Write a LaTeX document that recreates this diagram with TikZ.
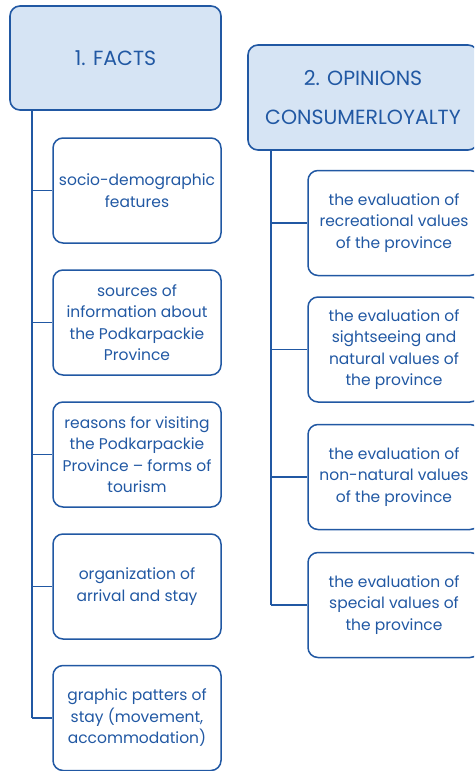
\documentclass[tikz,border=0pt]{standalone}
\usepackage{fontspec}
\setmainfont{Poppins}
\usetikzlibrary{positioning}
\definecolor{navy}{RGB}{33,88,163}
\definecolor{paleblue}{RGB}{214,228,244}

\begin{document}
\begin{tikzpicture}[x=1pt,y=-1pt,
  head/.style={draw=navy,fill=paleblue,rounded corners=10pt,line width=1.6pt,
    text=navy,font=\fontsize{20.5}{39}\selectfont,align=center,inner sep=0pt},
  item/.style={draw=navy,rounded corners=10pt,line width=1.5pt,
    text=navy,font=\fontsize{15.5}{21.5}\selectfont,align=center,inner sep=0pt},
  spine/.style={draw=navy,line width=2pt},
  twig/.style={draw=navy,line width=1.4pt}]
\clip (0,0) rectangle (474,771);
\useasboundingbox (0,0) rectangle (474,771);
% ---------- column 1 : facts ----------
\node[head,minimum width=211pt,minimum height=104pt] (facts) at (115.5,58) {1. FACTS};
\foreach \y/\nm/\txt in {190.5/f1/{socio-demographic\\features},
    322.5/f2/{sources of\\information about\\the Podkarpackie\\Province},
    454.5/f3/{reasons for visiting\\the Podkarpackie\\Province -- forms of\\tourism},
    586.5/f4/{organization of\\arrival and stay},
    718/f5/{graphic patters of\\stay (movement,\\accommodation)}}{%
  \node[item,minimum width=168pt,minimum height=105pt] (\nm) at (137,\y) {\txt};
}
\coordinate (lroot) at (32,110);
\draw[spine] (lroot) -- (lroot |- f5.west);
\foreach \nm in {f1,f2,f3,f4,f5}{%
  \draw[twig] (lroot |- \nm.west) -- (\nm.west);
}
% ---------- column 2 : opinions ----------
\node[head,minimum width=230pt,minimum height=105pt] (opinions) at (363,97.5) {2. OPINIONS\\CONSUMERLOYALTY};
\foreach \y/\nm/\txt in {223/o1/{the evaluation of\\recreational values\\of the province},
    349.5/o2/{the evaluation of\\sightseeing and\\natural values of\\the province},
    477/o3/{the evaluation of\\non-natural values\\of the province},
    605/o4/{the evaluation of\\special values of\\the province}}{%
  \node[item,minimum width=172pt,minimum height=105pt] (\nm) at (394,\y) {\txt};
}
\coordinate (rroot) at (271,150);
\draw[spine] (rroot) -- (rroot |- o4.west);
\foreach \nm in {o1,o2,o3,o4}{%
  \draw[twig] (rroot |- \nm.west) -- (\nm.west);
}
\end{tikzpicture}
\end{document}
